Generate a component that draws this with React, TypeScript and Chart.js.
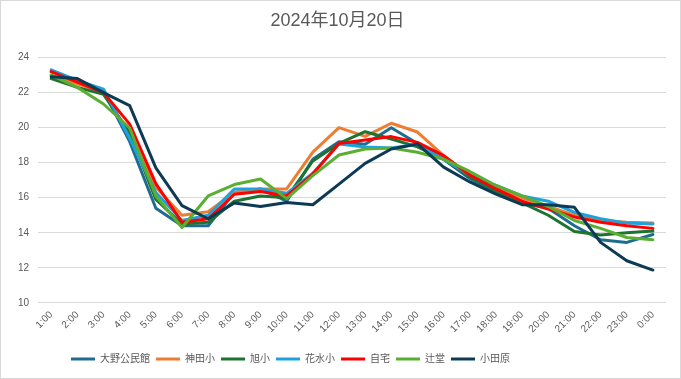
import React, { useEffect, useRef } from "react";
import { Chart, registerables } from "chart.js";

Chart.register(...registerables);

const titleText = "2024年10月20日";

const hours = [
  "1:00", "2:00", "3:00", "4:00", "5:00", "6:00", "7:00", "8:00", "9:00", "10:00", "11:00", "12:00",
  "13:00", "14:00", "15:00", "16:00", "17:00", "18:00", "19:00", "20:00", "21:00", "22:00", "23:00", "0:00",
];

const seriesNames = ["大野公民館", "神田小", "旭小", "花水小", "自宅", "辻堂", "小田原"];
const seriesColors = ["#1F6C91", "#ED7D31", "#1D7330", "#1CA3DD", "#FF0000", "#5AAE32", "#0D3B55"];

const onoValues = [23.2, 22.7, 22.1, 19.2, 15.4, 14.4, 14.4, 16.3, 16.5, 15.8, 18.2, 19.2, 19.05, 20.0, 19.1, 18.2, 17.1, 16.3, 15.7, 15.4, 14.4, 13.6, 13.45, 13.9];
const kandaValues = [23.0, 22.5, 22.0, 19.6, 16.6, 15.0, 15.2, 16.3, 16.5, 16.5, 18.6, 20.0, 19.5, 20.25, 19.75, 18.4, 17.3, 16.6, 16.0, 15.5, 15.0, 14.7, 14.6, 14.55];
const asahiValues = [22.8, 22.3, 21.9, 19.7, 15.9, 14.5, 14.6, 15.8, 16.1, 16.0, 18.1, 19.1, 19.77, 19.35, 18.9, 18.2, 17.2, 16.4, 15.7, 15.0, 14.07, 13.87, 14.0, 14.1];
const hanamizuValues = [23.3, 22.7, 22.2, 19.4, 16.3, 14.7, 15.0, 16.5, 16.5, 16.25, 17.4, 19.07, 18.9, 18.84, 19.05, 18.2, 17.3, 16.7, 16.1, 15.8, 15.16, 14.8, 14.55, 14.5];
const homeValues = [23.2, 22.6, 22.0, 20.2, 16.8, 14.6, 14.8, 16.2, 16.36, 16.1, 17.35, 19.1, 19.3, 19.49, 19.16, 18.4, 17.3, 16.5, 15.8, 15.35, 14.9, 14.6, 14.4, 14.25];
const tsujidoValues = [23.0, 22.3, 21.35, 19.98, 16.1, 14.3, 16.1, 16.75, 17.07, 15.95, 17.26, 18.44, 18.78, 18.84, 18.6, 18.2, 17.5, 16.7, 16.1, 15.5, 14.7, 14.25, 13.73, 13.6];
const odawaraValues = [22.9, 22.8, 22.0, 21.26, 17.7, 15.55, 14.8, 15.7, 15.5, 15.73, 15.6, 16.78, 17.96, 18.78, 19.07, 17.75, 16.9, 16.2, 15.6, 15.6, 15.45, 13.45, 12.4, 11.87];

const seriesValues = [onoValues, kandaValues, asahiValues, hanamizuValues, homeValues, tsujidoValues, odawaraValues];

const yMin = 10;
const yMax = 24;
const yStep = 2;

const FONT = "'Liberation Sans', 'Noto Sans CJK JP', sans-serif";
const TEXT_COLOR = "#595959";
const GRID_COLOR = "#d9d9d9";

const legendShift = {
  id: "legendShift",
  afterLayout(chart: any) {
    if (chart.legend) {
      chart.legend.left = 64;
    }
  },
};

export default function App() {
  const canvasRef = useRef<HTMLCanvasElement | null>(null);

  useEffect(() => {
    if (!canvasRef.current) return;
    const n = seriesNames.length;
    const chart = new Chart(canvasRef.current, {
      type: "line",
      data: {
        labels: hours,
        datasets: seriesNames.map((name, i) => ({
          label: name,
          data: seriesValues[i],
          borderColor: seriesColors[i],
          backgroundColor: seriesColors[i],
          borderWidth: 3,
          pointRadius: 0,
          pointHoverRadius: 0,
          fill: false,
          tension: 0,
          borderJoinStyle: "round" as const,
          borderCapStyle: "round" as const,
          order: n - i,
        })),
      },
      plugins: [legendShift],
      options: {
        animation: false,
        responsive: false,
        maintainAspectRatio: false,
        layout: { padding: { left: 8, right: 14, top: 0, bottom: 4 } },
        plugins: {
          title: {
            display: true,
            text: titleText,
            color: TEXT_COLOR,
            font: { family: FONT, size: 18, weight: "normal" },
            padding: { top: 9, bottom: 26 },
          },
          legend: {
            position: "bottom",
            align: "start",
            labels: {
              color: TEXT_COLOR,
              font: { family: FONT, size: 10 },
              boxWidth: 24,
              boxHeight: 3,
              padding: 6,
              sort: (a: any, b: any) => a.datasetIndex - b.datasetIndex,
              generateLabels: (c: any) => {
                const items = Chart.defaults.plugins.legend.labels.generateLabels(c);
                return items.map((it: any) => ({ ...it, lineWidth: 0, fillStyle: it.strokeStyle }));
              },
            },
          },
          tooltip: { enabled: false },
        },
        scales: {
          x: {
            offset: true,
            grid: { display: false, drawTicks: false },
            border: { display: false },
            afterFit: (scale: any) => {
              scale.height += 7;
            },
            ticks: {
              color: TEXT_COLOR,
              font: { family: FONT, size: 10 },
              maxRotation: 45,
              minRotation: 45,
              autoSkip: false,
              padding: 6,
            },
          },
          y: {
            min: yMin,
            max: yMax,
            grid: { color: GRID_COLOR, drawTicks: false, lineWidth: 1 },
            border: { display: false },
            ticks: {
              stepSize: yStep,
              color: TEXT_COLOR,
              font: { family: FONT, size: 10 },
              padding: 9,
            },
          },
        },
      },
    });
    return () => chart.destroy();
  }, []);

  return (
    <div
      style={{
        position: "fixed",
        left: 0,
        top: 0,
        width: 681,
        height: 379,
        boxSizing: "border-box",
        border: "1px solid #d9d9d9",
        background: "#ffffff",
      }}
    >
      <canvas ref={canvasRef} width={679} height={377} style={{ display: "block" }} />
    </div>
  );
}
